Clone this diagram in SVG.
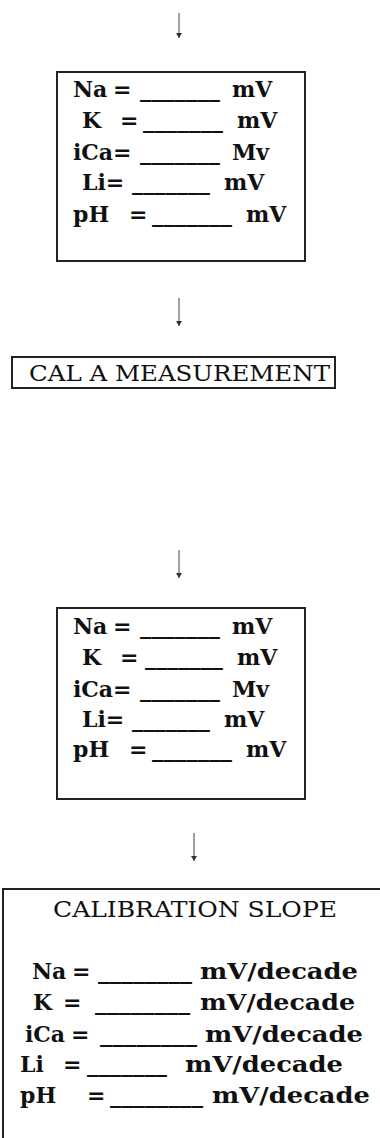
<svg xmlns="http://www.w3.org/2000/svg" width="380" height="1138" viewBox="0 0 380 1138">
<style>
.box{fill:#fff;stroke:#222;stroke-width:2}
.row{font-family:"DejaVu Serif","Liberation Serif",serif;font-weight:bold;font-size:22px;fill:#111}
.ttl{font-family:"DejaVu Serif","Liberation Serif",serif;font-size:22px;fill:#111}
.conn line{stroke:#444;stroke-width:1;marker-end:url(#ah)}
</style>
<defs>
<marker id="ah" markerUnits="userSpaceOnUse" markerWidth="7" markerHeight="7" refX="5" refY="3" orient="auto">
<path d="M0,0 L5,3 L0,6 z" fill="#333"/>
</marker>
</defs>
<rect width="380" height="1138" fill="#fff"/>
<g id="connectors" class="conn">
<line x1="179" y1="13" x2="179" y2="38"/>
<line x1="179" y1="298" x2="179" y2="326"/>
<line x1="179" y1="550" x2="179" y2="578"/>
<line x1="194" y1="833" x2="194" y2="861"/>
</g>
<g id="mv1">
<rect class="box" x="57" y="72" width="248" height="189"/>
<text class="row" y="97"><tspan x="73">Na</tspan><tspan x="113">=</tspan><tspan x="140" textLength="80" lengthAdjust="spacingAndGlyphs">_______</tspan><tspan x="232">mV</tspan></text>
<text class="row" y="128"><tspan x="82">K</tspan><tspan x="120">=</tspan><tspan x="143" textLength="80" lengthAdjust="spacingAndGlyphs">_______</tspan><tspan x="237">mV</tspan></text>
<text class="row" y="160"><tspan x="73">iCa=</tspan><tspan x="140" textLength="80" lengthAdjust="spacingAndGlyphs">_______</tspan><tspan x="232">Mv</tspan></text>
<text class="row" y="190"><tspan x="82">Li=</tspan><tspan x="132" textLength="78" lengthAdjust="spacingAndGlyphs">_______</tspan><tspan x="224">mV</tspan></text>
<text class="row" y="222"><tspan x="73">pH</tspan><tspan x="129">=</tspan><tspan x="152" textLength="80" lengthAdjust="spacingAndGlyphs">_______</tspan><tspan x="246">mV</tspan></text>
</g>
<g id="cal-a">
<rect class="box" x="12" y="357" width="323" height="31"/>
<text class="ttl" x="29" y="381" textLength="301" lengthAdjust="spacingAndGlyphs">CAL A MEASUREMENT</text>
</g>
<g id="mv2">
<rect class="box" x="57" y="608" width="248" height="191"/>
<text class="row" y="634"><tspan x="73">Na</tspan><tspan x="113">=</tspan><tspan x="140" textLength="80" lengthAdjust="spacingAndGlyphs">_______</tspan><tspan x="232">mV</tspan></text>
<text class="row" y="665"><tspan x="82">K</tspan><tspan x="120">=</tspan><tspan x="145" textLength="78" lengthAdjust="spacingAndGlyphs">_______</tspan><tspan x="237">mV</tspan></text>
<text class="row" y="697"><tspan x="73">iCa=</tspan><tspan x="140" textLength="80" lengthAdjust="spacingAndGlyphs">_______</tspan><tspan x="232">Mv</tspan></text>
<text class="row" y="727"><tspan x="82">Li=</tspan><tspan x="132" textLength="78" lengthAdjust="spacingAndGlyphs">_______</tspan><tspan x="224">mV</tspan></text>
<text class="row" y="757"><tspan x="73">pH</tspan><tspan x="129">=</tspan><tspan x="152" textLength="80" lengthAdjust="spacingAndGlyphs">_______</tspan><tspan x="246">mV</tspan></text>
</g>
<g id="slope">
<rect class="box" x="3" y="889" width="400" height="300"/>
<text class="ttl" x="53" y="917" textLength="284" lengthAdjust="spacingAndGlyphs">CALIBRATION SLOPE</text>
<text class="row" y="979"><tspan x="32">Na</tspan><tspan x="72">=</tspan><tspan x="98" textLength="94" lengthAdjust="spacingAndGlyphs">________</tspan><tspan x="200" textLength="158" lengthAdjust="spacingAndGlyphs">mV/decade</tspan></text>
<text class="row" y="1010"><tspan x="33">K</tspan><tspan x="63">=</tspan><tspan x="95" textLength="95" lengthAdjust="spacingAndGlyphs">________</tspan><tspan x="200" textLength="155" lengthAdjust="spacingAndGlyphs">mV/decade</tspan></text>
<text class="row" y="1042"><tspan x="25">iCa</tspan><tspan x="71">=</tspan><tspan x="100" textLength="97" lengthAdjust="spacingAndGlyphs">________</tspan><tspan x="205" textLength="158" lengthAdjust="spacingAndGlyphs">mV/decade</tspan></text>
<text class="row" y="1072"><tspan x="20">Li</tspan><tspan x="63">=</tspan><tspan x="87" textLength="80" lengthAdjust="spacingAndGlyphs">_______</tspan><tspan x="185" textLength="158" lengthAdjust="spacingAndGlyphs">mV/decade</tspan></text>
<text class="row" y="1103"><tspan x="20">pH</tspan><tspan x="87">=</tspan><tspan x="110" textLength="93" lengthAdjust="spacingAndGlyphs">________</tspan><tspan x="212" textLength="158" lengthAdjust="spacingAndGlyphs">mV/decade</tspan></text>
</g>
</svg>
